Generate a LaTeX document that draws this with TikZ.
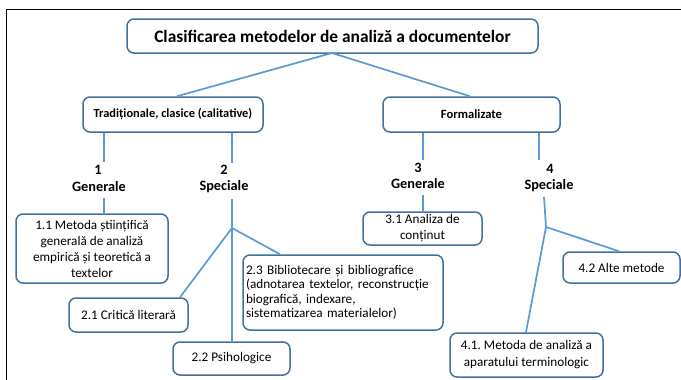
\documentclass[tikz,border=0pt]{standalone}
\usepackage{fontspec}
\setmainfont{Carlito}
\frenchspacing
\definecolor{boxblue}{HTML}{41719C}
\definecolor{lineblue}{HTML}{5B9BD5}
\begin{document}
\begin{tikzpicture}[x=1pt,y=-1pt,
  box/.style={draw=boxblue,line width=1.5pt,rounded corners=7pt,fill=white,align=center,inner sep=1pt,font=\fontsize{13.2}{15.5}\selectfont},
  conn/.style={draw=lineblue,line width=1.7pt},
  lbl/.style={font=\bfseries\fontsize{14.3}{16}\selectfont,inner sep=0pt}]
\useasboundingbox (0,0) rectangle (681,380);
\fill[white] (0,0) rectangle (681,380);
\draw[black,line width=0.8pt] (6,380) -- (6,9) -- (681,9);
% top level
\node[box,minimum width=411pt,minimum height=34pt,font=\bfseries\fontsize{17.4}{19}\selectfont] (title) at (332.5,36) {Clasificarea metodelor de analiză a documentelor};
\node[box,minimum width=180pt,minimum height=35pt,font=\bfseries\fontsize{12.4}{14}\selectfont] (trad) at (173,114.5) {Tradiționale, clasice (calitative)};
\node[box,minimum width=177pt,minimum height=35pt,font=\bfseries\fontsize{12.6}{14}\selectfont] (formal) at (471.5,114.5) {Formalizate};
% labels
\node[lbl] (n1) at (98,170) {1};
\node[lbl] (g1) at (99,187) {Generale};
\node[lbl] (n2) at (224,170) {2};
\node[lbl] (s2) at (224,187) {Speciale};
\node[lbl] (n3) at (418,168) {3};
\node[lbl] (g3) at (418,184) {Generale};
\node[lbl] (n4) at (550,169) {4};
\node[lbl] (s4) at (549,186) {Speciale};
% boxes
\node[box,minimum width=152pt,minimum height=69pt,font=\fontsize{13.2}{16}\selectfont] (b11) at (92,248.5) {1.1 Metoda științifică\\generală de analiză\\empirică și teoretică a\\textelor};
\node[box,minimum width=119pt,minimum height=34pt] (b21) at (128.5,315) {2.1 Critică literară};
\node[box,minimum width=117pt,minimum height=33pt] (b22) at (231.5,358.5) {2.2 Psihologice};
\node[box,minimum width=200pt,minimum height=75pt,align=left,text width=194pt,font=\fontsize{13.2}{14.4}\selectfont] (b23) at (343,292.5) {2.3 Bibliotecare și bibliografice\\(adnotarea textelor, reconstrucție\\biografică, indexare,\\sistematizarea materialelor)};
\node[box,minimum width=119pt,minimum height=33pt,font=\fontsize{13.2}{16}\selectfont] (b31) at (422.5,228.5) {3.1 Analiza de\\conținut};
\node[box,minimum width=153pt,minimum height=44pt,font=\fontsize{13.2}{17}\selectfont] (b41) at (526.5,355) {4.1. Metoda de analiză a\\aparatului terminologic};
\node[box,minimum width=117pt,minimum height=31pt] (b42) at (621.5,267.5) {4.2 Alte metode};
% coordinates
\coordinate (ttop) at (332,53);
\coordinate (xa) at (177,0);
\coordinate (xb) at (470,0);
\coordinate (x1) at (104,0);
\coordinate (x2) at (232,0);
\coordinate (x3) at (423,0);
\coordinate (x4a) at (539,0);
\coordinate (e1) at (104,162);
\coordinate (e2) at (232,163);
\coordinate (e3) at (423,160);
\coordinate (e4) at (539,160);
\coordinate (f1) at (104,198);
\coordinate (f2) at (232,199);
\coordinate (f3) at (423,195);
\coordinate (f4) at (544,197);
\coordinate (j2) at (232,228);
\coordinate (j4) at (546,227);
\coordinate (x21) at (180,0);
\coordinate (x23) at (280,0);
\coordinate (x41) at (526,0);
\coordinate (x42) at (619,0);
% connectors
\draw[conn] (ttop) -- (trad.north -| xa);
\draw[conn] (ttop) -- (formal.north -| xb);
\draw[conn] (trad.south -| x1) -- (e1);
\draw[conn] (trad.south -| x2) -- (e2);
\draw[conn] (formal.south -| x3) -- (e3);
\draw[conn] (formal.south -| x4a) -- (e4);
\draw[conn] (f1) -- (b11.north -| x1);
\draw[conn] (f2) -- (j2);
\draw[conn] (j2) -- (b21.north -| x21);
\draw[conn] (j2) -- (b22.north -| x2);
\draw[conn] (j2) -- (b23.north -| x23);
\draw[conn] (f3) -- (b31.north -| x3);
\draw[conn] (f4) -- (j4);
\draw[conn] (j4) -- (b41.north -| x41);
\draw[conn] (j4) -- (b42.north -| x42);
\end{tikzpicture}
\end{document}
